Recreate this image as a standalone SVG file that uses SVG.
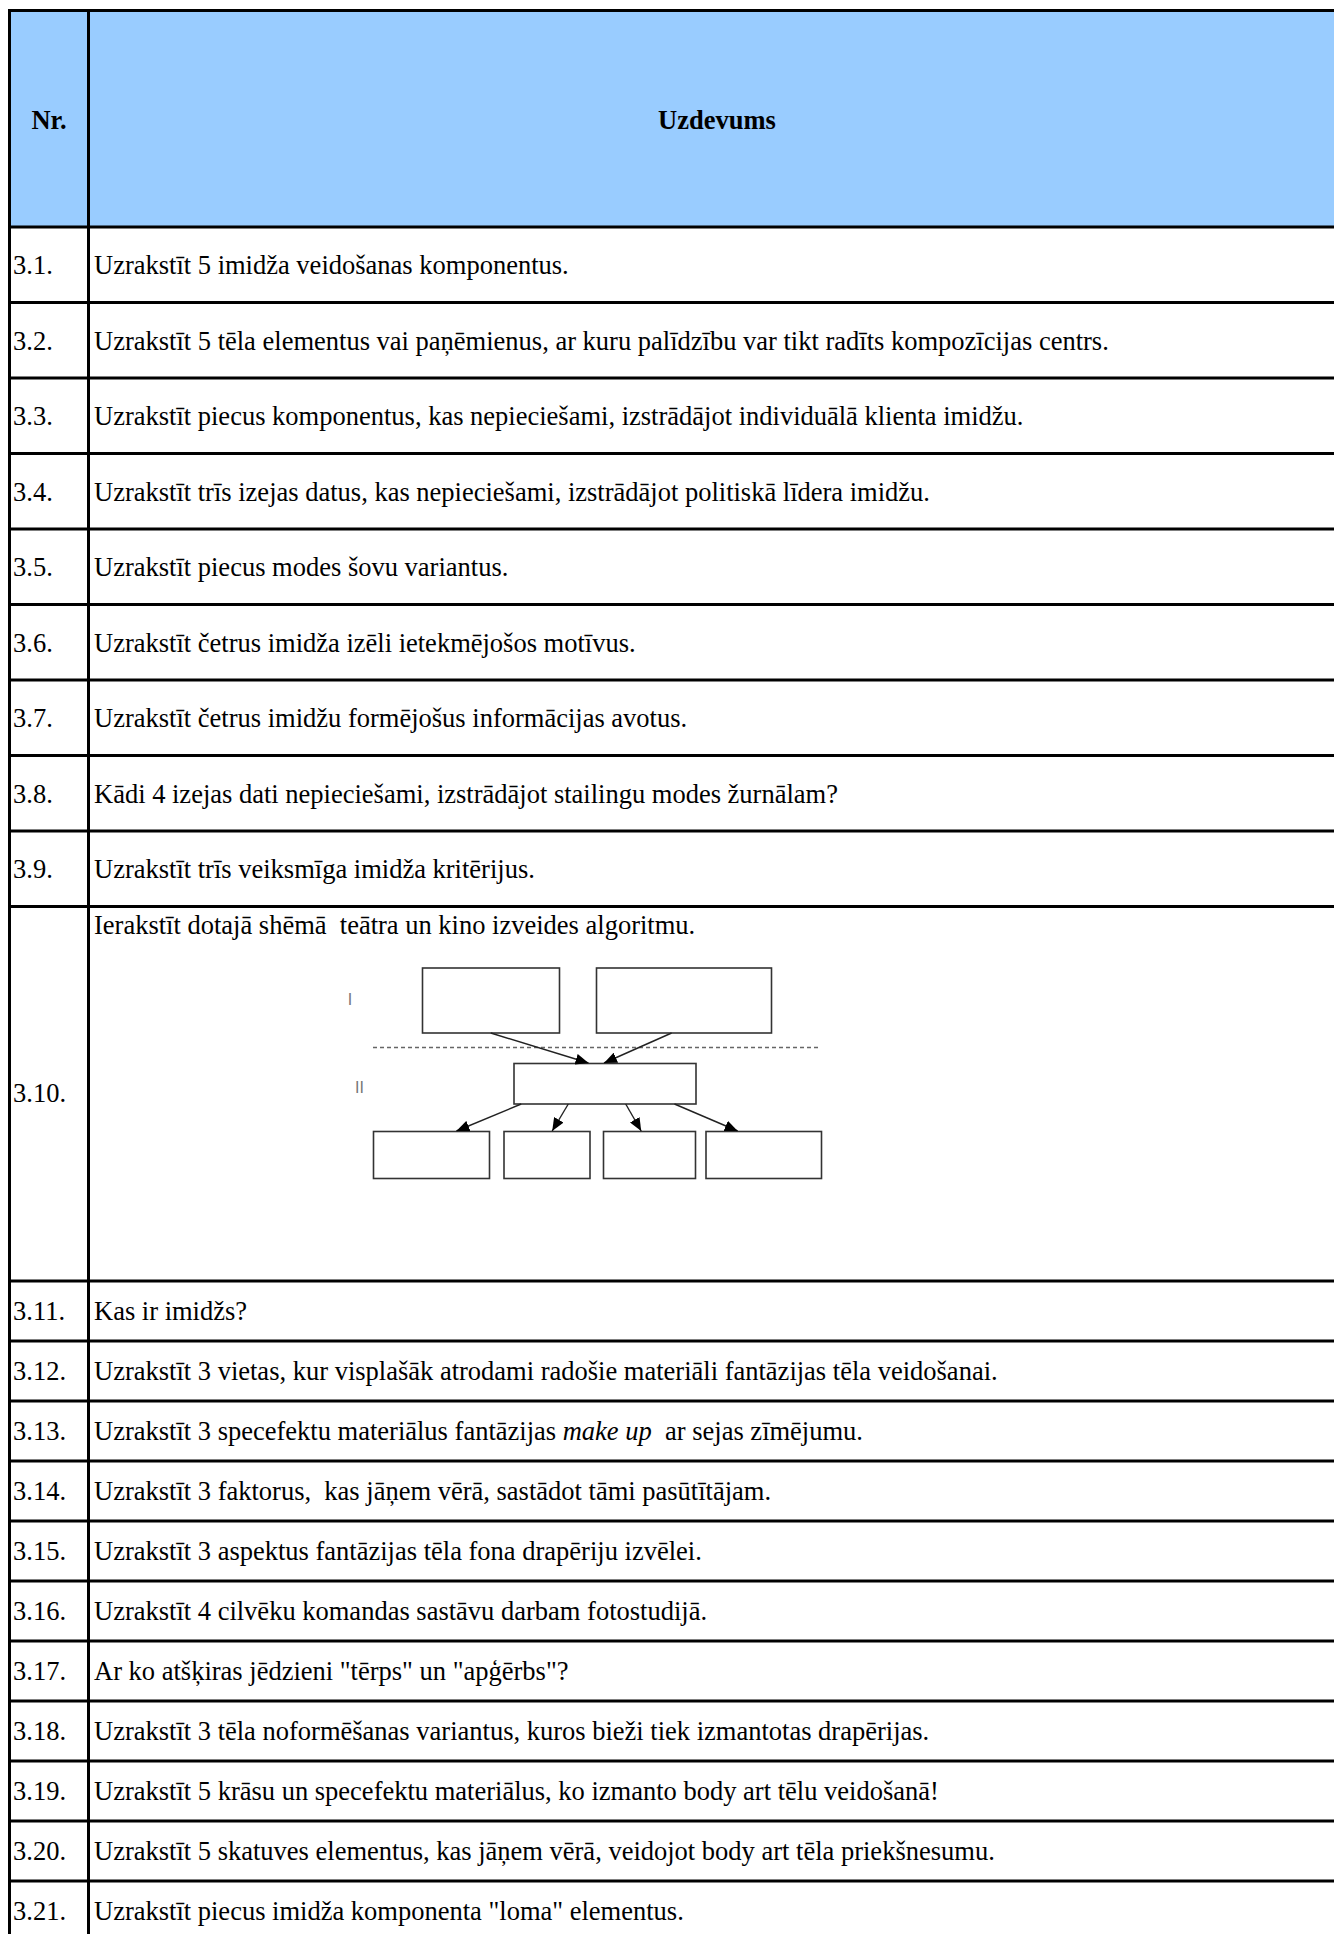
<svg xmlns="http://www.w3.org/2000/svg" width="1334" height="1934" viewBox="0 0 1334 1934">
<style>
.t{font-family:"Liberation Serif","Times New Roman",serif;font-size:26.5px;fill:#000;white-space:pre}
.h{font-family:"Liberation Serif","Times New Roman",serif;font-size:26.5px;font-weight:bold;fill:#000;text-anchor:middle}
.g{stroke:#000;stroke-width:3;fill:none}
.bx{fill:#fff;stroke:#333;stroke-width:1.6}
.ar{stroke:#222;stroke-width:1.4;fill:none;marker-end:url(#ah)}
.lb{font-family:"Liberation Sans",Arial,sans-serif;font-size:16px;fill:#777;text-anchor:middle}
</style>
<defs>
<marker id="ah" markerUnits="userSpaceOnUse" markerWidth="13" markerHeight="11" refX="13" refY="5.5" orient="auto">
<path d="M0,0 L13,5.5 L0,11 z" fill="#000"/>
</marker>
</defs>
<rect width="1334" height="1934" fill="#fff"/>
<rect x="9.5" y="10.5" width="1325" height="216.5" fill="#99CCFF"/>
<g id="grid">
<line class="g" x1="8" y1="10.5" x2="1334" y2="10.5"/>
<line class="g" x1="9.5" y1="9" x2="9.5" y2="1934"/>
<line class="g" x1="88.5" y1="9" x2="88.5" y2="1934"/>
<line class="g" x1="8" y1="227" x2="1334" y2="227"/>
<line class="g" x1="8" y1="302.5" x2="1334" y2="302.5"/>
<line class="g" x1="8" y1="378" x2="1334" y2="378"/>
<line class="g" x1="8" y1="453.5" x2="1334" y2="453.5"/>
<line class="g" x1="8" y1="529" x2="1334" y2="529"/>
<line class="g" x1="8" y1="604.5" x2="1334" y2="604.5"/>
<line class="g" x1="8" y1="680" x2="1334" y2="680"/>
<line class="g" x1="8" y1="755.5" x2="1334" y2="755.5"/>
<line class="g" x1="8" y1="831" x2="1334" y2="831"/>
<line class="g" x1="8" y1="906.5" x2="1334" y2="906.5"/>
<line class="g" x1="8" y1="1281" x2="1334" y2="1281"/>
<line class="g" x1="8" y1="1341" x2="1334" y2="1341"/>
<line class="g" x1="8" y1="1401" x2="1334" y2="1401"/>
<line class="g" x1="8" y1="1461" x2="1334" y2="1461"/>
<line class="g" x1="8" y1="1521" x2="1334" y2="1521"/>
<line class="g" x1="8" y1="1581" x2="1334" y2="1581"/>
<line class="g" x1="8" y1="1641" x2="1334" y2="1641"/>
<line class="g" x1="8" y1="1701" x2="1334" y2="1701"/>
<line class="g" x1="8" y1="1761" x2="1334" y2="1761"/>
<line class="g" x1="8" y1="1821" x2="1334" y2="1821"/>
<line class="g" x1="8" y1="1881" x2="1334" y2="1881"/>
</g>
<g id="header">
<text class="h" x="49" y="129">Nr.</text>
<text class="h" x="717" y="129">Uzdevums</text>
</g>
<g id="r3-1"><text class="t" x="13" y="274">3.1.</text><text class="t" x="94" y="274">Uzrakstīt 5 imidža veidošanas komponentus.</text></g>
<g id="r3-2"><text class="t" x="13" y="349.5">3.2.</text><text class="t" x="94" y="349.5">Uzrakstīt 5 tēla elementus vai paņēmienus, ar kuru palīdzību var tikt radīts kompozīcijas centrs.</text></g>
<g id="r3-3"><text class="t" x="13" y="425">3.3.</text><text class="t" x="94" y="425">Uzrakstīt piecus komponentus, kas nepieciešami, izstrādājot individuālā klienta imidžu.</text></g>
<g id="r3-4"><text class="t" x="13" y="500.5">3.4.</text><text class="t" x="94" y="500.5">Uzrakstīt trīs izejas datus, kas nepieciešami, izstrādājot politiskā līdera imidžu.</text></g>
<g id="r3-5"><text class="t" x="13" y="576">3.5.</text><text class="t" x="94" y="576">Uzrakstīt piecus modes šovu variantus.</text></g>
<g id="r3-6"><text class="t" x="13" y="651.5">3.6.</text><text class="t" x="94" y="651.5">Uzrakstīt četrus imidža izēli ietekmējošos motīvus.</text></g>
<g id="r3-7"><text class="t" x="13" y="727">3.7.</text><text class="t" x="94" y="727">Uzrakstīt četrus imidžu formējošus informācijas avotus.</text></g>
<g id="r3-8"><text class="t" x="13" y="802.5">3.8.</text><text class="t" x="94" y="802.5">Kādi 4 izejas dati nepieciešami, izstrādājot stailingu modes žurnālam?</text></g>
<g id="r3-9"><text class="t" x="13" y="878">3.9.</text><text class="t" x="94" y="878">Uzrakstīt trīs veiksmīga imidža kritērijus.</text></g>
<g id="r3-10">
<text class="t" x="13" y="1102">3.10.</text>
<text class="t" x="94" y="934">Ierakstīt dotajā shēmā  teātra un kino izveides algoritmu.</text>
<g id="scheme">
<text class="lb" x="350" y="1005">I</text>
<text class="lb" x="359.5" y="1093">II</text>
<line x1="373" y1="1047.5" x2="821" y2="1047.5" stroke="#666" stroke-width="1.6" stroke-dasharray="4,3"/>
<g id="box-i1"><rect class="bx" x="422.5" y="968" width="137" height="65"/></g>
<g id="box-i2"><rect class="bx" x="596.5" y="968" width="175" height="65"/></g>
<g id="box-ii"><rect class="bx" x="514" y="1063.5" width="182" height="40.5"/></g>
<g id="box-b1"><rect class="bx" x="373.5" y="1131.5" width="116" height="47"/></g>
<g id="box-b2"><rect class="bx" x="504" y="1131.5" width="86" height="47"/></g>
<g id="box-b3"><rect class="bx" x="603.5" y="1131.5" width="92" height="47"/></g>
<g id="box-b4"><rect class="bx" x="706" y="1131.5" width="115.5" height="47"/></g>
<g id="connectors">
<line class="ar" x1="490.8" y1="1033" x2="588.5" y2="1063"/>
<line class="ar" x1="671.6" y1="1033" x2="604" y2="1063"/>
<line class="ar" x1="521.2" y1="1104" x2="456.4" y2="1131"/>
<line class="ar" x1="568.3" y1="1104" x2="552.2" y2="1131"/>
<line class="ar" x1="625.7" y1="1104" x2="641.2" y2="1131"/>
<line class="ar" x1="674.5" y1="1104" x2="737.7" y2="1131"/>
</g>
</g>
</g>
<g id="r3-11"><text class="t" x="13" y="1320">3.11.</text><text class="t" x="94" y="1320">Kas ir imidžs?</text></g>
<g id="r3-12"><text class="t" x="13" y="1380">3.12.</text><text class="t" x="94" y="1380">Uzrakstīt 3 vietas, kur visplašāk atrodami radošie materiāli fantāzijas tēla veidošanai.</text></g>
<g id="r3-13"><text class="t" x="13" y="1440">3.13.</text><text class="t" x="94" y="1440">Uzrakstīt 3 specefektu materiālus fantāzijas <tspan font-style="italic">make up</tspan>  ar sejas zīmējumu.</text></g>
<g id="r3-14"><text class="t" x="13" y="1500">3.14.</text><text class="t" x="94" y="1500">Uzrakstīt 3 faktorus,  kas jāņem vērā, sastādot tāmi pasūtītājam.</text></g>
<g id="r3-15"><text class="t" x="13" y="1560">3.15.</text><text class="t" x="94" y="1560">Uzrakstīt 3 aspektus fantāzijas tēla fona drapēriju izvēlei.</text></g>
<g id="r3-16"><text class="t" x="13" y="1620">3.16.</text><text class="t" x="94" y="1620">Uzrakstīt 4 cilvēku komandas sastāvu darbam fotostudijā.</text></g>
<g id="r3-17"><text class="t" x="13" y="1680">3.17.</text><text class="t" x="94" y="1680">Ar ko atšķiras jēdzieni "tērps" un "apģērbs"?</text></g>
<g id="r3-18"><text class="t" x="13" y="1740">3.18.</text><text class="t" x="94" y="1740">Uzrakstīt 3 tēla noformēšanas variantus, kuros bieži tiek izmantotas drapērijas.</text></g>
<g id="r3-19"><text class="t" x="13" y="1800">3.19.</text><text class="t" x="94" y="1800">Uzrakstīt 5 krāsu un specefektu materiālus, ko izmanto body art tēlu veidošanā!</text></g>
<g id="r3-20"><text class="t" x="13" y="1860">3.20.</text><text class="t" x="94" y="1860">Uzrakstīt 5 skatuves elementus, kas jāņem vērā, veidojot body art tēla priekšnesumu.</text></g>
<g id="r3-21"><text class="t" x="13" y="1920">3.21.</text><text class="t" x="94" y="1920">Uzrakstīt piecus imidža komponenta "loma" elementus.</text></g>
</svg>
